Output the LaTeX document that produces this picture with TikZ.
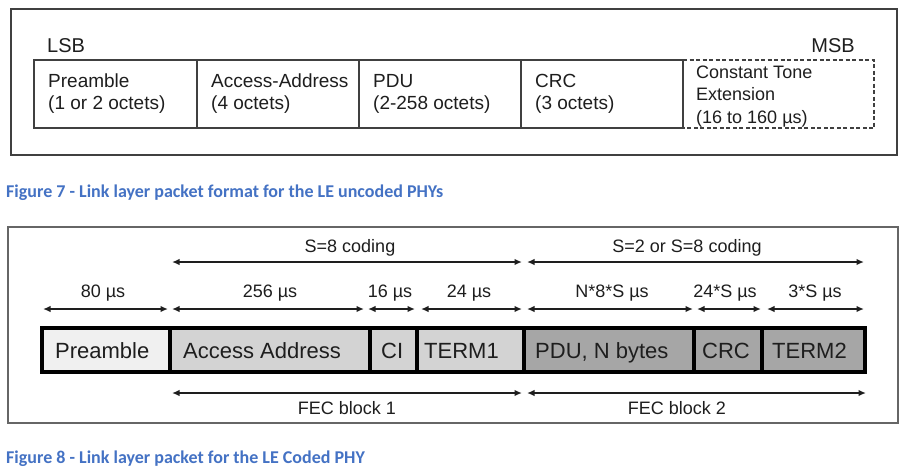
\documentclass[tikz,border=0pt]{standalone}
\usepackage{fontspec}
\setmainfont{Liberation Sans}
\newfontfamily\capfont{Carlito}
\usetikzlibrary{arrows.meta}
\definecolor{capblue}{HTML}{4472C4}
\definecolor{framec}{HTML}{404040}
\definecolor{txtc}{HTML}{1E1E1E}
\definecolor{fillA}{HTML}{F0F0F0}
\definecolor{fillB}{HTML}{D3D3D3}
\definecolor{fillC}{HTML}{A6A6A6}
\begin{document}
\begin{tikzpicture}[x=1pt,y=-1pt,
  frame/.style={draw=framec,line width=1.4pt},
  cellbox/.style={draw=framec,line width=1.4pt},
  ctebox/.style={draw=framec,line width=1.1pt,dash pattern=on 4pt off 2.5pt},
  toptxt/.style={inner sep=0,anchor=base west,text=txtc,font=\fontsize{19}{22}\selectfont},
  ctetxt/.style={inner sep=0,anchor=base west,text=txtc,font=\fontsize{18}{21}\selectfont},
  sbtxt/.style={inner sep=0,text=txtc,font=\fontsize{20}{24}\selectfont},
  bartxt/.style={inner sep=0,anchor=base west,text=txtc,font=\fontsize{22}{26}\selectfont},
  dimtxt/.style={inner sep=0,anchor=base,text=txtc,font=\fontsize{18}{21}\selectfont},
  captxt/.style={inner sep=0,anchor=base west,text=capblue,font=\capfont\bfseries\fontsize{18}{22}\selectfont},
  dimarrow/.style={{Latex[length=7.5pt,width=6.5pt]}-{Latex[length=7.5pt,width=6.5pt]},line width=1.7pt,draw=txtc},
  barline/.style={draw=black,line width=4pt}
]
\useasboundingbox[fill=white] (0,0) rectangle (915,475);

% ---------- Figure 7 ----------
\draw[frame] (11,9) rectangle (897,155);
\draw[cellbox] (34,60) rectangle (683,128);
\draw[cellbox] (197,60) -- (197,128);
\draw[cellbox] (359,60) -- (359,128);
\draw[cellbox] (521,60) -- (521,128);
\draw[ctebox] (683,60) -- (874,60) -- (874,128) -- (683,128);

\node[sbtxt,anchor=base west] (lsb) at (47,52) {LSB};
\node[sbtxt,anchor=base east] (msb) at (855,52) {MSB};

\node[toptxt] (pre1) at (48,87) {Preamble};
\node[toptxt] (pre2) at (48,109) {(1 or 2 octets)};
\node[toptxt] (aa1) at (211,87) {Access-Address};
\node[toptxt] (aa2) at (211,109) {(4 octets)};
\node[toptxt] (pdu1) at (373,87) {PDU};
\node[toptxt] (pdu2) at (373,109) {(2-258 octets)};
\node[toptxt] (crc1) at (535,87) {CRC};
\node[toptxt] (crc2) at (535,109) {(3 octets)};
\node[ctetxt] (cte1) at (696,78) {Constant Tone};
\node[ctetxt] (cte2) at (696,100) {Extension};
\node[ctetxt] (cte3) at (696,123) {(16 to 160 µs)};

\node[captxt] (cap7) at (6,197) {Figure 7 - Link layer packet format for the LE uncoded PHYs};

% ---------- Figure 8 ----------
\draw[frame,draw=framec!80] (8,227) rectangle (898,423);

\fill[fillA] (42,328) rectangle (170,372);
\fill[fillB] (170,328) rectangle (524,372);
\fill[fillC] (524,328) rectangle (865,372);
\draw[barline] (42,328) rectangle (865,372);
\foreach \xx in {170,370,417,524,694,762} \draw[barline] (\xx,328) -- (\xx,372);

\node[bartxt] (bpre) at (55,358) {Preamble};
\node[bartxt] (baa) at (183,358) {Access Address};
\node[bartxt] (bci) at (381,358) {CI};
\node[bartxt] (bt1) at (424,358) {TERM1};
\node[bartxt] (bpdu) at (535,358) {PDU, N bytes};
\node[bartxt] (bcrc) at (702,358) {CRC};
\node[bartxt] (bt2) at (772,358) {TERM2};

% dimension arrows
\coordinate (d0) at (43,309);  \coordinate (d1) at (168,309);
\coordinate (d2) at (172,309); \coordinate (d3) at (364,309);
\coordinate (d4) at (368,309); \coordinate (d5) at (415,309);
\coordinate (d6) at (421,309); \coordinate (d7) at (522,309);
\coordinate (d8) at (527,309); \coordinate (d9) at (693,309);
\coordinate (d10) at (697,309); \coordinate (d11) at (761,309);
\coordinate (d12) at (767,309); \coordinate (d13) at (864,309);
\draw[dimarrow] (d0) -- (d1);
\draw[dimarrow] (d2) -- (d3);
\draw[dimarrow] (d4) -- (d5);
\draw[dimarrow] (d6) -- (d7);
\draw[dimarrow] (d8) -- (d9);
\draw[dimarrow] (d10) -- (d11);
\draw[dimarrow] (d12) -- (d13);

\node[dimtxt] (l80) at (103,297) {80 µs};
\node[dimtxt] (l256) at (270,297) {256 µs};
\node[dimtxt] (l16) at (390,297) {16 µs};
\node[dimtxt] (l24) at (469,297) {24 µs};
\node[dimtxt] (lpdu) at (612,297) {N*8*S µs};
\node[dimtxt] (lcrc) at (725,297) {24*S µs};
\node[dimtxt] (lt2) at (815,297) {3*S µs};

% coding arrows
\coordinate (c0) at (172,262); \coordinate (c1) at (522,262);
\coordinate (c2) at (527,262); \coordinate (c3) at (864,262);
\draw[dimarrow] (c0) -- (c1);
\draw[dimarrow] (c2) -- (c3);
\node[dimtxt] (s8) at (350,252) {S=8 coding};
\node[dimtxt] (s28) at (687,252) {S=2 or S=8 coding};

% FEC arrows
\coordinate (f0) at (172,393); \coordinate (f1) at (522,393);
\coordinate (f2) at (527,393); \coordinate (f3) at (866,393);
\draw[dimarrow] (f0) -- (f1);
\draw[dimarrow] (f2) -- (f3);
\node[dimtxt] (fec1) at (347,414) {FEC block 1};
\node[dimtxt] (fec2) at (677,414) {FEC block 2};

\node[captxt] (cap8) at (6,463) {Figure 8 - Link layer packet for the LE Coded PHY};
\end{tikzpicture}
\end{document}
